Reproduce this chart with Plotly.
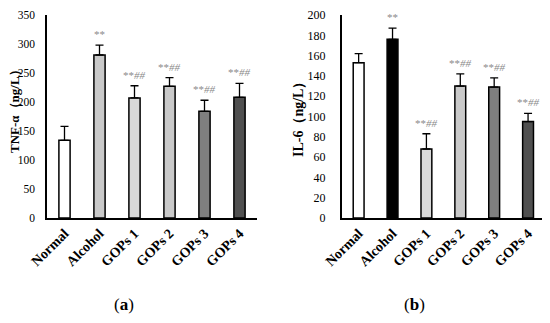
import plotly.graph_objects as go

categories = ["Normal", "Alcohol", "GOPs 1", "GOPs 2", "GOPs 3", "GOPs 4"]

tnf_values = [134, 281, 207, 227, 184, 208]
tnf_errors = [24, 17, 21, 15, 19, 24]
tnf_marks = ["", "**", "**<i>##</i>", "**<i>##</i>", "**<i>##</i>", "**<i>##</i>"]
tnf_colors = ["#ffffff", "#c9c9c9", "#d9d9d9", "#c9c9c9", "#7f7f7f", "#505050"]

il6_values = [153, 176, 68, 130, 129, 95]
il6_errors = [9, 11, 15, 12, 9, 8]
il6_marks = ["", "**", "**<i>##</i>", "**<i>##</i>", "**<i>##</i>", "**<i>##</i>"]
il6_colors = ["#ffffff", "#000000", "#d9d9d9", "#c9c9c9", "#7f7f7f", "#505050"]

FONT = "Liberation Serif"

# page has 8px body margin; figure drawn starting at (8,8)
W, H, OFF = 542, 315, 8


def px(X):
    return (X - OFF) / W


def py(Y):
    return 1 - (Y - OFF) / H


fig = go.Figure()


def add_panel(vals, errs, cols, xa, ya):
    fig.add_trace(go.Bar(
        x=categories, y=vals, xaxis=xa, yaxis=ya,
        marker=dict(color=cols, line=dict(color="#000000", width=1.5)),
        width=0.32,
        error_y=dict(type="data", array=errs, arrayminus=[0] * len(errs),
                     symmetric=False, color="#000000", thickness=1.3, width=4),
        showlegend=False,
    ))


add_panel(tnf_values, tnf_errors, tnf_colors, "x", "y")
add_panel(il6_values, il6_errors, il6_colors, "x2", "y2")

annotations = []
for xr, yr, vals, errs, marks in [("x", "y", tnf_values, tnf_errors, tnf_marks),
                                  ("x2", "y2", il6_values, il6_errors, il6_marks)]:
    for c, v, e, m in zip(categories, vals, errs, marks):
        if m:
            annotations.append(dict(x=c, y=v + e, xref=xr, yref=yr, text=m,
                                    showarrow=False, yanchor="bottom", yshift=3,
                                    font=dict(family=FONT, size=11, color="#8a8a8a")))

annotations += [
    dict(x=px(124), y=py(304), xref="paper", yref="paper", text="(<b>a</b>)",
         showarrow=False, xanchor="center", yanchor="middle",
         font=dict(family=FONT, size=17, color="#000")),
    dict(x=px(414), y=py(304), xref="paper", yref="paper", text="(<b>b</b>)",
         showarrow=False, xanchor="center", yanchor="middle",
         font=dict(family=FONT, size=17, color="#000")),
    dict(x=px(14), y=py(108), xref="paper", yref="paper", text="<b>TNF-α（ng/L）</b>",
         textangle=-90, showarrow=False, xanchor="center", yanchor="middle",
         font=dict(family=FONT, size=13, color="#000")),
    dict(x=px(298), y=py(116), xref="paper", yref="paper", text="<b>IL-6（ng/L）</b>",
         textangle=-90, showarrow=False, xanchor="center", yanchor="middle",
         font=dict(family=FONT, size=14, color="#000")),
]

ydom = [py(218), py(15)]
axis_common = dict(showgrid=False, zeroline=False, showline=True, linecolor="#000",
                   linewidth=1.5, automargin=False, ticklabeloverflow="allow")

fig.update_layout(
    width=W, height=H,
    margin=dict(l=0, r=0, t=0, b=0),
    paper_bgcolor="#fff", plot_bgcolor="#fff",
    font=dict(family=FONT, color="#000"),
    xaxis=dict(domain=[px(47), px(257)], anchor="y", tickangle=-45,
               tickfont=dict(family=FONT, size=14, color="#000", weight="bold"),
               ticks="", **axis_common),
    yaxis=dict(domain=ydom, anchor="x", range=[0, 350], dtick=50,
               tickfont=dict(family=FONT, size=11.5, color="#000"), ticks="",
               ticklabelstandoff=8, **axis_common),
    xaxis2=dict(domain=[px(341.7), px(545)], anchor="y2", tickangle=-45,
                tickfont=dict(family=FONT, size=14, color="#000", weight="bold"),
                ticks="", **axis_common),
    yaxis2=dict(domain=ydom, anchor="x2", range=[0, 200], dtick=20,
                tickfont=dict(family=FONT, size=12, color="#000"), ticks="",
                ticklabelstandoff=12, **axis_common),
    annotations=annotations,
)

fig.write_html("out.html")
